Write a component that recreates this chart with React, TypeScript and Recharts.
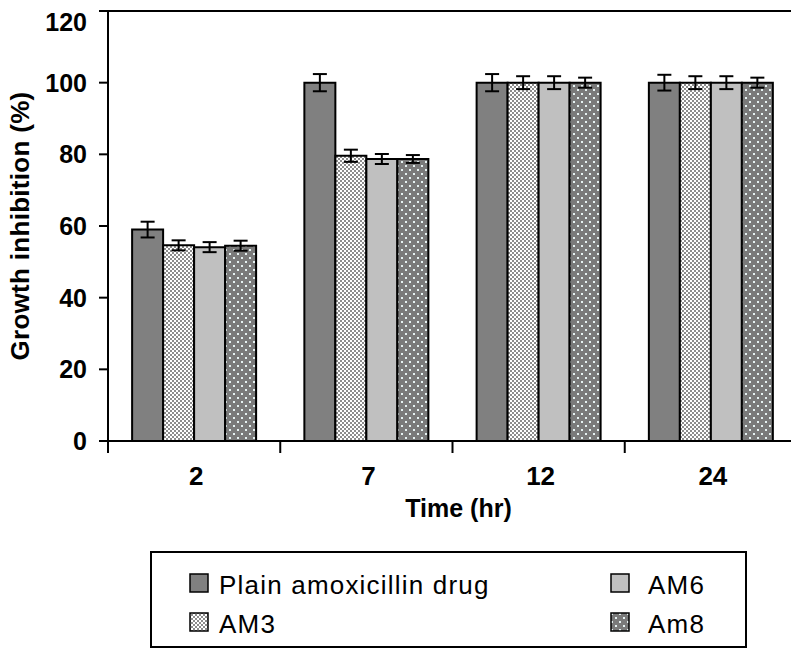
import React from 'react';
import { BarChart, Bar, XAxis, YAxis, ErrorBar, ReferenceLine, Legend } from 'recharts';

const times = ['2', '7', '12', '24'];
const plain = [59, 100, 100, 100];
const plainErr = [2.2, 2.4, 2.4, 2.2];
const am3 = [54.6, 79.6, 100, 100];
const am3Err = [1.4, 1.7, 1.8, 1.8];
const am6 = [54.1, 78.7, 100, 100];
const am6Err = [1.4, 1.4, 1.8, 1.8];
const am8 = [54.5, 78.7, 100, 100];
const am8Err = [1.4, 1.1, 1.4, 1.4];
const yTicks = [0, 20, 40, 60, 80, 100, 120];

const FONT = "'Liberation Sans', Arial, sans-serif";

const data = times.map((t, i) => ({
  time: t,
  plain: plain[i],
  plainErr: plainErr[i],
  am3: am3[i],
  am3Err: am3Err[i],
  am6: am6[i],
  am6Err: am6Err[i],
  am8: am8[i],
  am8Err: am8Err[i],
}));

const series = [
  { key: 'plain', name: 'Plain amoxicillin drug', fill: '#808080' },
  { key: 'am3', name: 'AM3', fill: 'url(#checker)' },
  { key: 'am6', name: 'AM6', fill: '#c0c0c0' },
  { key: 'am8', name: 'Am8', fill: 'url(#dots)' },
];

// category labels with tick marks on the band edges
const TimeTick = (props: any) => {
  const { x, y, payload, index } = props;
  const half = payload.offset ?? 0;
  return (
    <g>
      <line x1={x - half} x2={x - half} y1={y} y2={y + 12} stroke="#000" strokeWidth={2} />
      {index === times.length - 1 && (
        <line x1={x + half} x2={x + half} y1={y} y2={y + 12} stroke="#000" strokeWidth={2} />
      )}
      <text x={x + 2} y={y + 44} textAnchor="middle" fontSize={26} fontWeight="bold" fontFamily={FONT} fill="#000">
        {payload.value}
      </text>
    </g>
  );
};

const Swatch = ({ fill }: { fill: string }) => (
  <svg width={20} height={20} style={{ position: 'absolute', left: 0, top: 0 }}>
    <rect x={1} y={1} width={18} height={18} fill={fill} stroke="#000" strokeWidth={1.5} />
  </svg>
);

const LegendBox = () => {
  const spots = [
    { s: series[0], left: 39, top: 22 },
    { s: series[1], left: 39, top: 61 },
    { s: series[2], left: 460, top: 22 },
    { s: series[3], left: 460, top: 61 },
  ];
  return (
    <div
      style={{
        position: 'relative',
        width: 597,
        height: 97,
        boxSizing: 'border-box',
        border: '2px solid #000',
        background: '#fff',
        fontFamily: FONT,
      }}
    >
      {spots.map(({ s, left, top }) => (
        <div key={s.key} style={{ position: 'absolute', left: left - 2, top: top - 2, height: 20 }}>
          <Swatch fill={s.fill} />
          <div
            style={{
              position: 'absolute',
              left: left < 100 ? 30 : 38,
              top: -1,
              fontSize: 26,
              lineHeight: '26px',
              letterSpacing: 1.2,
              whiteSpace: 'nowrap',
              color: '#000',
            }}
          >
            {s.name}
          </div>
        </div>
      ))}
    </div>
  );
};

export default function App() {
  return (
    <BarChart
      width={791}
      height={640}
      data={data}
      margin={{ top: 3, right: 2, left: 0, bottom: 127 }}
      barCategoryGap="14%"
      barGap={0}
    >
      <defs>
        <pattern id="checker" width={4} height={4} patternUnits="userSpaceOnUse">
          <rect width={4} height={4} fill="#ffffff" />
          <rect width={2} height={2} fill="#8c8c8c" />
          <rect x={2} y={2} width={2} height={2} fill="#8c8c8c" />
        </pattern>
        <pattern id="dots" width={8} height={8} patternUnits="userSpaceOnUse">
          <rect width={8} height={8} fill="#7a7a7a" />
          <rect x={1} y={1} width={2} height={2} fill="#e6f2f2" />
          <rect x={5} y={5} width={2} height={2} fill="#e6f2f2" />
        </pattern>
      </defs>
      <XAxis
        dataKey="time"
        height={80}
        tickLine={false}
        tickSize={0}
        tickMargin={0}
        axisLine={{ stroke: '#000', strokeWidth: 2 }}
        tick={<TimeTick />}
        interval={0}
        label={{
          value: 'Time (hr)',
          position: 'insideBottom',
          offset: 4,
          dx: 6,
          style: { fontSize: 25, fontWeight: 'bold', fontFamily: FONT, fill: '#000' },
        }}
      />
      <YAxis
        width={100}
        domain={[0, 120]}
        ticks={yTicks}
        tickSize={9}
        tickMargin={12}
        tickLine={{ stroke: '#000', strokeWidth: 2 }}
        axisLine={{ stroke: '#000', strokeWidth: 2 }}
        tick={{ fontSize: 25, fontWeight: 'bold', fontFamily: FONT, fill: '#000' }}
        label={{
          value: 'Growth inhibition (%)',
          angle: -90,
          position: 'insideLeft',
          offset: 12,
          style: {
            fontSize: 26,
            fontWeight: 'bold',
            fontFamily: FONT,
            fill: '#000',
            textAnchor: 'middle',
            letterSpacing: 0.3,
          },
        }}
      />
      <YAxis
        yAxisId="frame"
        orientation="right"
        width={0}
        domain={[0, 120]}
        tick={false}
        tickLine={false}
        axisLine={{ stroke: '#000', strokeWidth: 2 }}
      />
      <ReferenceLine y={120} stroke="#000" strokeWidth={2} />
      {series.map((s) => (
        <Bar
          key={s.key}
          dataKey={s.key}
          name={s.name}
          fill={s.fill}
          stroke="#000"
          strokeWidth={2}
          isAnimationActive={false}
        >
          <ErrorBar
            dataKey={`${s.key}Err`}
            direction="y"
            width={7}
            stroke="#000"
            strokeWidth={2}
            isAnimationActive={false}
          />
        </Bar>
      ))}
      <Legend
        layout="horizontal"
        verticalAlign="middle"
        align="center"
        wrapperStyle={{ position: 'absolute', top: 543, left: 142, width: 597, height: 97 }}
        content={() => <LegendBox />}
      />
    </BarChart>
  );
}
